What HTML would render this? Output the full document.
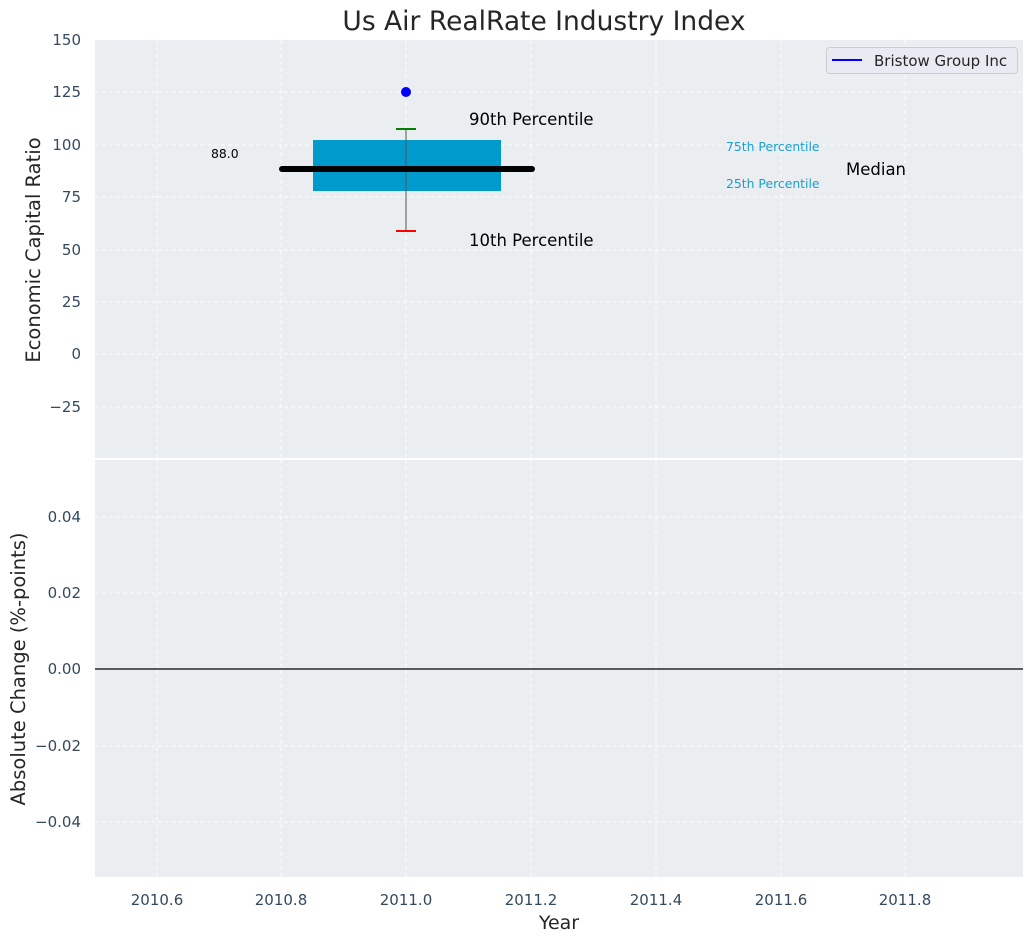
<!DOCTYPE html>
<html><head><meta charset="utf-8"><style>
html,body{margin:0;padding:0;background:#fff;}
svg{display:block;font-family:"DejaVu Sans","Liberation Sans",sans-serif;}
</style></head><body>
<svg width="1034" height="942" viewBox="0 0 1034 942" xmlns="http://www.w3.org/2000/svg">
<rect width="1034" height="942" fill="#fff"/>
<rect x="95" y="40" width="928" height="418" fill="#eaeef0"/>
<rect x="95" y="460" width="928" height="417" fill="#eaeef0"/>
<g stroke="#fff" stroke-width="1" stroke-dasharray="4,3" opacity="0.9">
<line x1="95" x2="1023" y1="92" y2="92"/>
<line x1="95" x2="1023" y1="145" y2="145"/>
<line x1="95" x2="1023" y1="197" y2="197"/>
<line x1="95" x2="1023" y1="250" y2="250"/>
<line x1="95" x2="1023" y1="302" y2="302"/>
<line x1="95" x2="1023" y1="354" y2="354"/>
<line x1="95" x2="1023" y1="407" y2="407"/>
<line x1="95" x2="1023" y1="517" y2="517"/>
<line x1="95" x2="1023" y1="593" y2="593"/>
<line x1="95" x2="1023" y1="746" y2="746"/>
<line x1="95" x2="1023" y1="822" y2="822"/>
<line x1="157" x2="157" y1="40" y2="877"/>
<line x1="281" x2="281" y1="40" y2="877"/>
<line x1="406" x2="406" y1="40" y2="877"/>
<line x1="531" x2="531" y1="40" y2="877"/>
<line x1="656" x2="656" y1="40" y2="877"/>
<line x1="781" x2="781" y1="40" y2="877"/>
<line x1="905" x2="905" y1="40" y2="877"/>
</g>
<line x1="95" x2="1023" y1="459" y2="459" stroke="#fff" stroke-width="2"/>
<rect x="313" y="140" width="188" height="51" fill="#009acd"/>
<line x1="406" x2="406" y1="129" y2="231" stroke="#555" stroke-width="1"/>
<line x1="396" x2="416" y1="129" y2="129" stroke="green" stroke-width="2"/>
<line x1="396" x2="416" y1="231" y2="231" stroke="red" stroke-width="2"/>
<line x1="282" x2="532" y1="169" y2="169" stroke="#000" stroke-width="6" stroke-linecap="round"/>
<circle cx="406" cy="92" r="5" fill="#0000ff"/>
<text x="211" y="158" font-size="12.4" fill="#000">88.0</text>
<text x="469" y="125" font-size="16.5" fill="#000">90th Percentile</text>
<text x="469" y="246" font-size="16.5" fill="#000">10th Percentile</text>
<text x="726" y="151" font-size="12.4" fill="#1a9fd0">75th Percentile</text>
<text x="726" y="188" font-size="12.4" fill="#1a9fd0">25th Percentile</text>
<text x="846" y="175" font-size="16.5" fill="#000">Median</text>
<rect x="826.5" y="47.5" width="191" height="26" rx="3" fill="#eaeaf2" stroke="#ccc"/>
<line x1="832" x2="862" y1="60" y2="60" stroke="#0000ff" stroke-width="2"/>
<text x="874" y="66" font-size="15" fill="#262626">Bristow Group Inc</text>
<line x1="95" x2="1023" y1="669" y2="669" stroke="#000" stroke-width="1.2"/>
<text x="544" y="30" font-size="26.5" fill="#262626" text-anchor="middle">Us Air RealRate Industry Index</text>
<g font-size="15" fill="#34495e" text-anchor="end">
<text x="81" y="45">150</text>
<text x="81" y="97">125</text>
<text x="81" y="150">100</text>
<text x="81" y="202">75</text>
<text x="81" y="255">50</text>
<text x="81" y="307">25</text>
<text x="81" y="359">0</text>
<text x="81" y="412">−25</text>
<text x="81" y="522">0.04</text>
<text x="81" y="598">0.02</text>
<text x="81" y="674">0.00</text>
<text x="81" y="751">−0.02</text>
<text x="81" y="827">−0.04</text>
</g>
<g font-size="15" fill="#34495e" text-anchor="middle">
<text x="157" y="905">2010.6</text>
<text x="281" y="905">2010.8</text>
<text x="406" y="905">2011.0</text>
<text x="531" y="905">2011.2</text>
<text x="656" y="905">2011.4</text>
<text x="781" y="905">2011.6</text>
<text x="905" y="905">2011.8</text>
</g>
<text x="559" y="929" font-size="19" fill="#262626" text-anchor="middle">Year</text>
<text transform="translate(40,250) rotate(-90)" font-size="19.5" fill="#262626" text-anchor="middle">Economic Capital Ratio</text>
<text transform="translate(25,669) rotate(-90)" font-size="19.5" fill="#262626" text-anchor="middle">Absolute Change (%-points)</text>
</svg>
</body></html>
